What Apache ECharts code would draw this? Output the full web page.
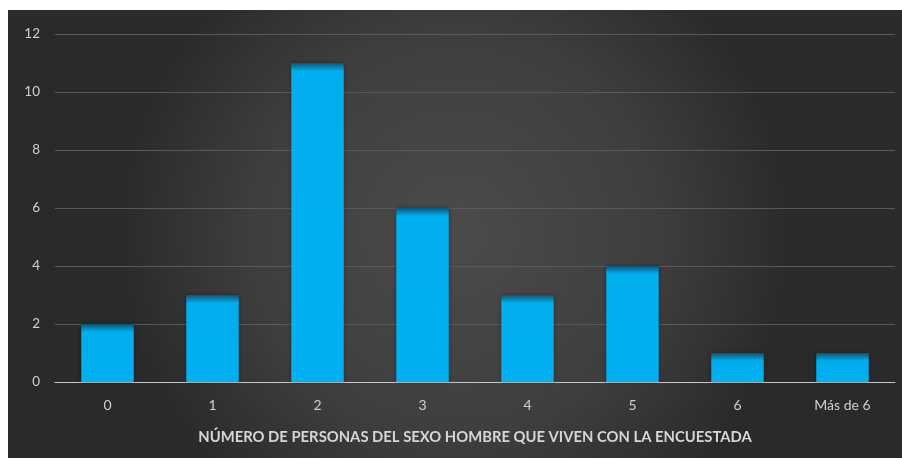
<!DOCTYPE html>
<html>
<head>
<meta charset="utf-8">
<script src="https://cdn.jsdelivr.net/npm/echarts@6/dist/echarts.min.js"></script>
<style>
  html, body { margin: 0; padding: 0; background: #ffffff; }
  #chart { width: 902px; height: 458px; }
</style>
</head>
<body>
<div id="chart"></div>
<script>
// Number of male persons living with the respondent
const categories = ['0', '1', '2', '3', '4', '5', '6', 'Más de 6'];
const counts = [2, 3, 11, 6, 3, 4, 1, 1];
const yTicks = [0, 2, 4, 6, 8, 10, 12];
const axisTitle = 'NÚMERO DE PERSONAS DEL SEXO HOMBRE QUE VIVEN CON LA ENCUESTADA';

const chart = echarts.init(document.getElementById('chart'));

const plotTop = 34, plotBottom = 76;
const plotHeight = 458 - plotTop - plotBottom;
const yMax = yTicks[yTicks.length - 1];

// Each bar gets a dark band along its top edge, a few pixels deep
const barData = counts.map(v => {
  const h = v / yMax * plotHeight;
  const edge = Math.min(1, 8 / h);
  return {
    value: v,
    itemStyle: {
      color: new echarts.graphic.LinearGradient(0, 0, 0, 1, [
        { offset: 0, color: '#0a5677' },
        { offset: edge, color: '#00aeee' },
        { offset: 1, color: '#00b0f0' }
      ])
    }
  };
});

chart.setOption({
  animation: false,
  textStyle: { fontFamily: 'Lato, "Open Sans", sans-serif' },
  graphic: [{
    type: 'rect',
    z: -10,
    silent: true,
    shape: { x: 8, y: 10, width: 894, height: 448 },
    style: {
      fill: new echarts.graphic.RadialGradient(0.5, 0.5, 0.75, [
        { offset: 0, color: '#4b4b4b' },
        { offset: 0.6, color: '#3e3e3e' },
        { offset: 1, color: '#2a2a2a' }
      ])
    }
  }],
  grid: { left: 55, right: 7, top: plotTop, bottom: plotBottom },
  xAxis: {
    type: 'category',
    data: categories,
    axisLine: { lineStyle: { color: '#c8c8c8', width: 1 } },
    axisTick: { show: false },
    axisLabel: { color: '#d0d0d0', fontSize: 14, margin: 16 },
    name: axisTitle,
    nameLocation: 'middle',
    nameGap: 48,
    nameTextStyle: { color: '#d6d6d6', fontSize: 14.8, fontWeight: 'bold' }
  },
  yAxis: {
    type: 'value',
    min: 0,
    max: yMax,
    interval: 2,
    axisLine: { show: false },
    axisTick: { show: false },
    axisLabel: { color: '#d0d0d0', fontSize: 13.5, margin: 15 },
    splitLine: { lineStyle: { color: '#595959', width: 1 } }
  },
  series: [{
    type: 'bar',
    data: barData,
    barWidth: '50%',
    itemStyle: { shadowBlur: 4, shadowColor: 'rgba(0,0,0,0.35)' }
  }]
});
</script>
</body>
</html>
